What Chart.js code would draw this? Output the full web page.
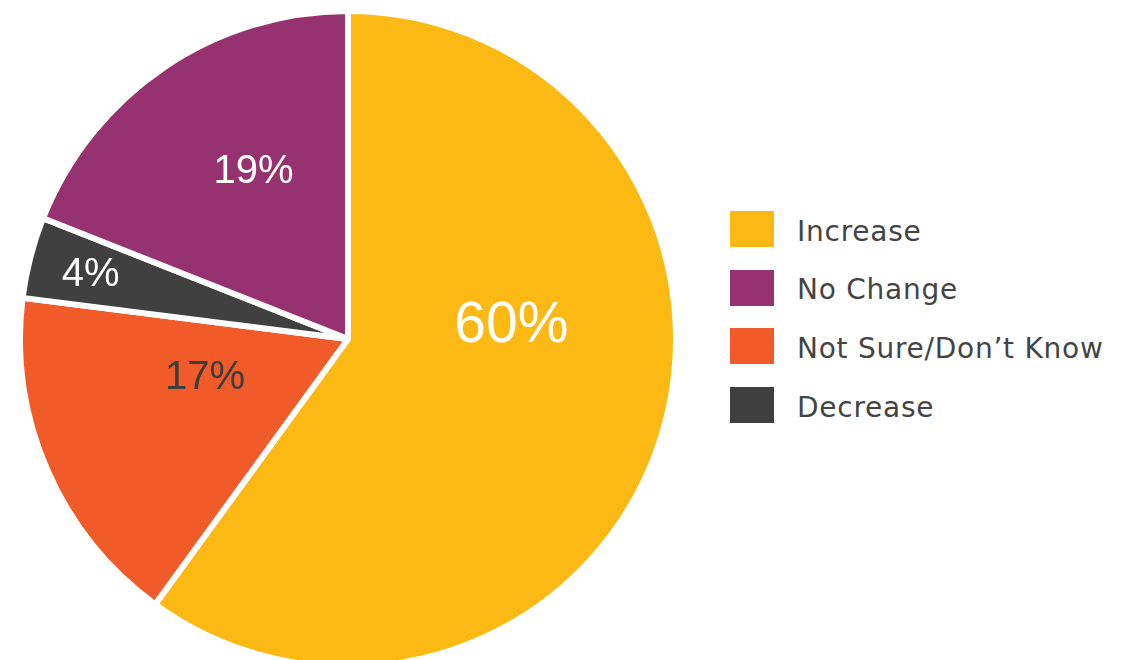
<!DOCTYPE html>
<html>
<head>
<meta charset="utf-8">
<script src="https://cdn.jsdelivr.net/npm/chart.js@4"></script>
<style>
  html, body { margin: 0; padding: 0; width: 1138px; height: 660px; overflow: hidden; background: #fff; }
  #pieWrap { position: absolute; left: 0; top: 0; width: 700px; height: 700px; }
  #legend { position: absolute; left: 730px; top: 211px; font-family: "DejaVu Sans", sans-serif; font-size: 28px; color: #444; }
  .legend-row { display: flex; align-items: center; height: 36px; margin-bottom: 22.7px; }
  .legend-box { width: 44px; height: 36px; margin-right: 23px; flex: none; }
  .legend-name { letter-spacing: 0.75px; line-height: 36px; padding-top: 5px; }
</style>
</head>
<body>
<div id="pieWrap"><canvas id="pie"></canvas></div>
<div id="legend"></div>

<script>
// ====================== Data ======================
const SLICE_LABELS = ["Increase", "Not Sure/Don’t Know", "Decrease", "No Change"];
const SLICE_VALUES = [60, 17, 4, 19];
const SLICE_COLORS = ["#FCB914", "#F15A29", "#404040", "#96326F"];
const LEGEND_ORDER = ["Increase", "No Change", "Not Sure/Don’t Know", "Decrease"];

// ====================== Label placement ======================
// turn: degrees away from the slice's middle angle, dist: fraction of the radius
const LABEL_STYLE = [
  { turn: -23, dist: 0.50, size: 57, color: "#fff" },
  { turn: 9, dist: 0.45, size: 40, color: "#3d3d3d" },
  { turn: 0, dist: 0.81, size: 40, color: "#fff" },
  { turn: 5, dist: 0.59, size: 40, color: "#fff" }
];

// ── draws the percent text on each slice ──
const sliceLabels = {
  id: "sliceLabels",
  afterDatasetsDraw(chart) {
    const ctx = chart.ctx;
    const arcs = chart.getDatasetMeta(0).data;
    ctx.save();
    ctx.textAlign = "center";
    ctx.textBaseline = "middle";
    arcs.forEach((arc, i) => {
      const st = LABEL_STYLE[i];
      const mid = (arc.startAngle + arc.endAngle) / 2 + st.turn * Math.PI / 180;
      const r = arc.outerRadius * st.dist;
      ctx.font = `${st.size}px "Liberation Sans", Arial, sans-serif`;
      ctx.fillStyle = st.color;
      ctx.fillText(`${SLICE_VALUES[i]}%`, arc.x + Math.cos(mid) * r, arc.y + Math.sin(mid) * r + 2);
    });
    ctx.restore();
  }
};

// ====================== Pie ======================
new Chart(document.getElementById("pie"), {
  type: "pie",
  data: {
    labels: SLICE_LABELS,
    datasets: [{
      data: SLICE_VALUES,
      backgroundColor: SLICE_COLORS,
      borderColor: "#fff",
      borderWidth: 6
    }]
  },
  options: {
    responsive: true,
    maintainAspectRatio: false,
    animation: false,
    layout: { padding: { left: 17, top: 8, right: 21, bottom: 30 } },
    plugins: { legend: { display: false }, tooltip: { enabled: false } }
  },
  plugins: [sliceLabels]
});

// ====================== Legend ======================
document.getElementById("legend").innerHTML = LEGEND_ORDER.map(name => {
  const i = SLICE_LABELS.indexOf(name);
  return `<div class="legend-row">
    <span class="legend-box" style="background:${SLICE_COLORS[i]}"></span>
    <span class="legend-name">${name}</span>
  </div>`;
}).join("");
</script>
</body>
</html>
